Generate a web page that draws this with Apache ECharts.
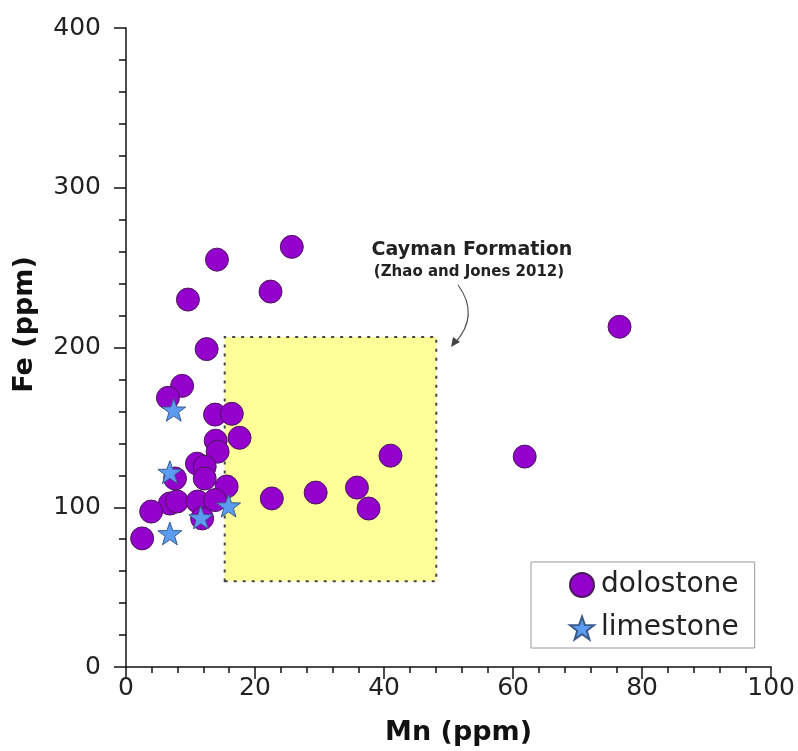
<!DOCTYPE html>
<html>
<head>
<meta charset="utf-8">
<script src="https://cdn.jsdelivr.net/npm/echarts@6/dist/echarts.min.js"></script>
<style>
html,body{margin:0;padding:0;background:#fff;}
#chart{width:798px;height:751px;}
</style>
</head>
<body>
<div id="chart"></div>
<script>
// Dolostone samples: [Mn (ppm), Fe (ppm)]
const dolostone = [
  [76.5,213],[61.8,131.7],[25.7,263],[22.4,235],[14.1,255],[9.6,230],[12.5,199],
  [41.0,132.3],[22.6,105.5],[29.4,109.2],[35.8,112.3],[37.6,99.2],[15.6,113],
  [17.6,143.5],[8.7,176],[6.5,168.5],[13.8,158],[16.4,158.5],[13.9,141.7],[14.2,134.8],
  [11.0,127.3],[12.2,125.4],[12.2,118],[7.6,118],[6.8,102.3],[7.9,103.6],[3.9,97.3],
  [11.1,103.6],[13.8,104.5],[11.8,93],[2.5,80.5]
];
// Limestone samples
const limestone = [[7.4,161],[6.8,122],[11.6,93.6],[15.9,101],[6.8,83.6]];
// Cayman Formation field (Zhao and Jones 2012): [Mn min, Fe min], [Mn max, Fe max]
const caymanField = [[15.3,53.7],[48.1,206.6]];
const xTicks = [0,20,40,60,80,100];
const yTicks = [0,100,200,300,400];

const starPath = 'path://M0,-10 L2.35,-3.24 9.51,-3.09 3.8,1.24 5.88,8.09 0,4 -5.88,8.09 -3.8,1.24 -9.51,-3.09 -2.35,-3.24Z';
const FONT = '"DejaVu Sans", "Liberation Sans", Arial, sans-serif';

const chart = echarts.init(document.getElementById('chart'));
chart.setOption({
  animation: false,
  backgroundColor: '#fff',
  grid: {left: 126, right: 26, top: 28, bottom: 82},
  xAxis: {
    type: 'value', min: xTicks[0], max: xTicks[xTicks.length-1], interval: 20,
    name: 'Mn (ppm)', nameLocation: 'middle', nameGap: 52,
    nameTextStyle: {fontFamily: FONT, fontSize: 27, fontWeight: 'bold', color: '#111', padding: [0,0,0,20]},
    axisLine: {onZero: false, lineStyle: {color: '#111', width: 1.5}},
    axisTick: {length: 12, lineStyle: {color: '#111', width: 1.5}},
    minorTick: {show: true, splitNumber: 5, length: 6, lineStyle: {color: '#111', width: 1.5}},
    axisLabel: {fontFamily: FONT, fontSize: 25, color: '#222', margin: 9},
    splitLine: {show: false}
  },
  yAxis: {
    type: 'value', min: yTicks[0], max: yTicks[yTicks.length-1], interval: 100,
    name: 'Fe (ppm)', nameLocation: 'middle', nameGap: 88, nameRotate: 90,
    nameTextStyle: {fontFamily: FONT, fontSize: 27, fontWeight: 'bold', color: '#111', padding: [0,0,0,46]},
    axisLine: {show: true, onZero: false, lineStyle: {color: '#111', width: 1.5}},
    axisTick: {show: true, length: 12, lineStyle: {color: '#111', width: 1.5}},
    minorTick: {show: true, splitNumber: 5, length: 7, lineStyle: {color: '#111', width: 1.5}},
    axisLabel: {fontFamily: FONT, fontSize: 25, color: '#222', margin: 25},
    splitLine: {show: false}
  },
  legend: {
    orient: 'vertical', left: 531, top: 562,
    padding: [9, 16, 6, 38], itemGap: 15,
    itemWidth: 24, itemHeight: 24,
    borderColor: '#999', borderWidth: 1, backgroundColor: '#fff',
    textStyle: {fontFamily: FONT, fontSize: 28, color: '#222', padding: [0,0,0,2]},
    data: [{name: 'dolostone', icon: 'circle'}, {name: 'limestone', icon: starPath}]
  },
  graphic: [
    {type: 'text', x: 472, y: 241, style: {text: 'Cayman Formation', font: 'bold 19px ' + FONT, fill: '#222', align: 'center'}},
    {type: 'text', x: 469, y: 265, style: {text: '(Zhao and Jones 2012)', font: 'bold 15px ' + FONT, fill: '#222', align: 'center'}},
    {type: 'bezierCurve', shape: {x1: 458, y1: 285, cpx1: 480, cpy1: 315, x2: 455, y2: 343},
      style: {stroke: '#555', lineWidth: 1.2, fill: null}},
    {type: 'polygon', shape: {points: [[451, 347], [453, 337], [460, 342]]}, style: {fill: '#444'}}
  ],
  series: [
    {
      name: 'Cayman Formation', type: 'scatter', data: [], z: 1,
      markArea: {
        silent: true,
        itemStyle: {color: '#ffff99', borderColor: '#444', borderWidth: 2, borderType: [3, 6]},
        data: [[{coord: caymanField[0]}, {coord: caymanField[1]}]]
      }
    },
    {
      name: 'dolostone', type: 'scatter', data: dolostone, symbol: 'circle', symbolSize: 23, z: 3,
      itemStyle: {color: '#9400cc', borderColor: '#4a1a5a', borderWidth: 1, opacity: 1}
    },
    {
      name: 'limestone', type: 'scatter', data: limestone, symbol: starPath, symbolSize: 24,
      symbolKeepAspect: true, z: 4,
      itemStyle: {color: '#5b9cf0', borderColor: '#3a5a8a', borderWidth: 1, opacity: 1}
    }
  ]
});
</script>
</body>
</html>
